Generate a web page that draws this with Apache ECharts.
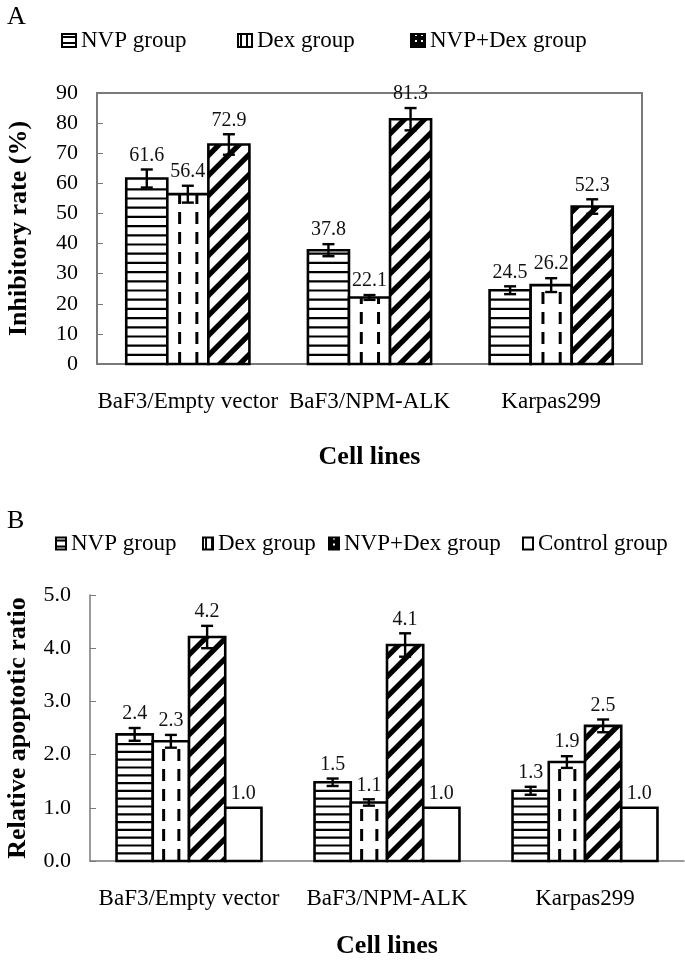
<!DOCTYPE html>
<html><head><meta charset="utf-8">
<script src="https://cdn.jsdelivr.net/npm/echarts@6/dist/echarts.min.js"></script>
<style>html,body{margin:0;padding:0;background:#fff}#c{width:685px;height:962px}</style>
</head><body><div id="c"></div>
<script>
// ---------- data ----------
const categories = ['BaF3/Empty vector', 'BaF3/NPM-ALK', 'Karpas299'];
const namesA = ['NVP group', 'Dex group', 'NVP+Dex group'];
const namesB = ['NVP group', 'Dex group', 'NVP+Dex group', 'Control group'];

// Panel A: inhibitory rate (%)
const nvpA = [61.6, 37.8, 24.5];
const dexA = [56.4, 22.1, 26.2];
const comboA = [72.9, 81.3, 52.3];
const nvpAErr = [3.0, 2.0, 1.3];
const dexAErr = [2.8, 0.8, 2.3];
const comboAErr = [3.4, 3.7, 2.4];
const nvpALabels = ['61.6', '37.8', '24.5'];
const dexALabels = ['56.4', '22.1', '26.2'];
const comboALabels = ['72.9', '81.3', '52.3'];
const ticksA = ['0', '10', '20', '30', '40', '50', '60', '70', '80', '90'];

// Panel B: relative apoptotic ratio
const nvpB = [2.38, 1.48, 1.32];
const dexB = [2.25, 1.10, 1.86];
const comboB = [4.21, 4.06, 2.54];
const ctrlB = [1.0, 1.0, 1.0];
const nvpBErr = [0.12, 0.07, 0.075];
const dexBErr = [0.12, 0.06, 0.11];
const comboBErr = [0.21, 0.22, 0.12];
const ctrlBErr = [0, 0, 0];
const nvpBLabels = ['2.4', '1.5', '1.3'];
const dexBLabels = ['2.3', '1.1', '1.9'];
const comboBLabels = ['4.2', '4.1', '2.5'];
const ctrlBLabels = ['1.0', '1.0', '1.0'];
const ticksB = ['0.0', '1.0', '2.0', '3.0', '4.0', '5.0'];

// ---------- helpers ----------
const FONT = '"Liberation Serif", "Times New Roman", serif';

function clipHalf(poly, c, keepGreater) {
  const out = [];
  for (let i = 0; i < poly.length; i++) {
    const P = poly[i], Q = poly[(i + 1) % poly.length];
    const fp = P[0] + P[1] - c, fq = Q[0] + Q[1] - c;
    const inP = keepGreater ? fp >= 0 : fp <= 0;
    const inQ = keepGreater ? fq >= 0 : fq <= 0;
    if (inP) out.push(P);
    if (inP !== inQ) {
      const t = fp / (fp - fq);
      out.push([P[0] + t * (Q[0] - P[0]), P[1] + t * (Q[1] - P[1])]);
    }
  }
  return out;
}

const labelsOf = {};
function makeRender(key, pos, count, kind, barFrac, hSpacing, labelSize) {
  return function (params, api) {
    const idx = api.value(0);
    const val = api.value(1);
    const err = api.value(2);
    const label = labelsOf[key][params.dataIndex];
    const base = api.coord([idx, 0]);
    const top = api.coord([idx, val]);
    const band = api.size([1, 0])[0];
    const bw = band * barFrac;
    const x0 = base[0] - bw * count / 2 + bw * pos;
    const x1 = x0 + bw;
    const yb = base[1], yt = top[1];
    const cx = (x0 + x1) / 2;
    const children = [];
    children.push({ type: 'rect', shape: { x: x0, y: yt, width: bw, height: yb - yt }, style: { fill: '#fff' } });
    if (kind === 'h') {
      for (let y = yb - hSpacing; y > yt + 2; y -= hSpacing) {
        children.push({ type: 'rect', shape: { x: x0, y: y - 1, width: bw, height: 2.2 }, style: { fill: '#000' } });
      }
    } else if (kind === 'v') {
      [0.3, 0.72].forEach(function (f) {
        const lx = x0 + bw * f;
        for (let y = yb; y > yt; y -= 20) {
          const ya = Math.max(yt, y - 12);
          children.push({ type: 'rect', shape: { x: lx - 1.5, y: ya, width: 3, height: y - ya }, style: { fill: '#000' } });
        }
      });
    } else if (kind === 'd') {
      const rect = [[x0, yt], [x1, yt], [x1, yb], [x0, yb]];
      const period = 20, th = 7.5;
      const kStart = Math.floor((x0 + yt) / period) - 1;
      const kEnd = Math.ceil((x1 + yb) / period) + 1;
      for (let k = kStart; k <= kEnd; k++) {
        let p = clipHalf(rect, k * period, true);
        if (p.length < 3) continue;
        p = clipHalf(p, k * period + th, false);
        if (p.length < 3) continue;
        children.push({ type: 'polygon', shape: { points: p }, style: { fill: '#000' } });
      }
    }
    children.push({ type: 'rect', shape: { x: x0, y: yt, width: bw, height: yb - yt }, style: { fill: null, stroke: '#000', lineWidth: 2.6 } });
    let labelY = yt;
    if (err > 0) {
      const eTop = api.coord([idx, val + err])[1];
      const eBot = api.coord([idx, val - err])[1];
      const capW = 6;
      children.push({ type: 'line', shape: { x1: cx, y1: eTop, x2: cx, y2: eBot }, style: { stroke: '#000', lineWidth: 2.4 } });
      children.push({ type: 'line', shape: { x1: cx - capW, y1: eTop, x2: cx + capW, y2: eTop }, style: { stroke: '#000', lineWidth: 2.4 } });
      children.push({ type: 'line', shape: { x1: cx - capW, y1: eBot, x2: cx + capW, y2: eBot }, style: { stroke: '#000', lineWidth: 2.4 } });
      labelY = eTop;
    }
    children.push({
      type: 'text',
      style: { text: label, x: cx, y: labelY - 4, textAlign: 'center', textVerticalAlign: 'bottom', fill: '#111', font: labelSize + 'px ' + FONT }
    });
    return { type: 'group', children: children };
  };
}

function buildSeries(name, key, values, errs, labels, pos, count, kind, barFrac, hSpacing, axisIndex) {
  labelsOf[key] = labels;
  return {
    type: 'custom',
    name: name,
    xAxisIndex: axisIndex,
    yAxisIndex: axisIndex,
    renderItem: makeRender(key, pos, count, kind, barFrac, hSpacing, 20),
    encode: { x: 0, y: 1 },
    data: values.map(function (v, i) { return [i, v, errs[i]]; }),
    clip: false,
    z: 3
  };
}

function tile(draw) {
  const c = document.createElement('canvas');
  c.width = 6; c.height = 6;
  const g = c.getContext('2d');
  g.fillStyle = '#fff'; g.fillRect(0, 0, 6, 6);
  g.fillStyle = '#000';
  draw(g);
  return { image: c, repeat: 'repeat' };
}
const iconH = tile(function (g) { g.fillRect(0, 2, 6, 2); });
const iconV = tile(function (g) { g.fillRect(2, 0, 2, 6); });
const iconD = tile(function (g) { g.fillRect(0, 0, 6, 6); g.fillStyle = '#fff'; g.fillRect(4, 0, 2, 2); });
const iconFills = { 'NVP group': iconH, 'Dex group': iconV, 'NVP+Dex group': iconD, 'Control group': '#fff' };

function legendItem(name, left, top, w, h) {
  return {
    data: [{ name: name, icon: 'rect', itemStyle: { color: iconFills[name], borderColor: '#000', borderWidth: 2 } }],
    left: left, top: top, itemWidth: w, itemHeight: h, padding: 0,
    textStyle: { fontFamily: FONT, fontSize: 23, color: '#000' }, selectedMode: false
  };
}

const barFracA = 0.226, barFracB = 0.183;
const series = [
  buildSeries(namesA[0], 'a0', nvpA, nvpAErr, nvpALabels, 0, 3, 'h', barFracA, 9.2, 0),
  buildSeries(namesA[1], 'a1', dexA, dexAErr, dexALabels, 1, 3, 'v', barFracA, 0, 0),
  buildSeries(namesA[2], 'a2', comboA, comboAErr, comboALabels, 2, 3, 'd', barFracA, 0, 0),
  buildSeries(namesB[0], 'b0', nvpB, nvpBErr, nvpBLabels, 0, 4, 'h', barFracB, 7.8, 1),
  buildSeries(namesB[1], 'b1', dexB, dexBErr, dexBLabels, 1, 4, 'v', barFracB, 0, 1),
  buildSeries(namesB[2], 'b2', comboB, comboBErr, comboBLabels, 2, 4, 'd', barFracB, 0, 1),
  buildSeries(namesB[3], 'b3', ctrlB, ctrlBErr, ctrlBLabels, 3, 4, 'n', barFracB, 0, 1)
];

const legendLeftA = [61, 237, 410];
const legendLeftB = [55, 202, 328, 522];

const axisGray = '#7a7a7a';
const catLabel = { interval: 0, hideOverlap: false, margin: 26, fontFamily: FONT, fontSize: 23, color: '#000' };
const titleFont = { fontFamily: FONT, fontSize: 26, fontWeight: 'bold', color: '#000' };
const chart = echarts.init(document.getElementById('c'), null, { renderer: 'canvas' });
chart.setOption({
  animation: false,
  backgroundColor: '#fff',
  title: [
    { text: 'A', left: 7, top: 4, padding: 0, textStyle: { fontFamily: FONT, fontSize: 26, fontWeight: 'normal', color: '#000' } },
    { text: 'B', left: 7, top: 508, padding: 0, textStyle: { fontFamily: FONT, fontSize: 26, fontWeight: 'normal', color: '#000' } }
  ],
  legend: namesA.map(function (n, i) { return legendItem(n, legendLeftA[i], 29, 14, 13); })
    .concat(namesB.map(function (n, i) { return legendItem(n, legendLeftB[i], 532, 10, 12); })),
  grid: [
    { left: 97, top: 93, width: 545, height: 271, show: true, borderColor: axisGray, borderWidth: 2, backgroundColor: 'transparent', containLabel: false, outerBoundsMode: 'none' },
    { left: 90, top: 595, width: 594, height: 266, containLabel: false, outerBoundsMode: 'none' }
  ],
  xAxis: [
    {
      type: 'category', gridIndex: 0, data: categories,
      axisLine: { lineStyle: { color: axisGray, width: 2 } },
      axisTick: { inside: true, length: 6, lineStyle: { color: axisGray } },
      axisLabel: catLabel,
      name: 'Cell lines', nameLocation: 'middle', nameGap: 80,
      nameTextStyle: titleFont
    },
    {
      type: 'category', gridIndex: 1, data: categories,
      axisLine: { lineStyle: { color: axisGray, width: 1.5 } },
      axisTick: { inside: true, length: 6, lineStyle: { color: axisGray } },
      axisLabel: catLabel,
      name: 'Cell lines', nameLocation: 'middle', nameGap: 72,
      nameTextStyle: titleFont
    }
  ],
  yAxis: [
    {
      type: 'value', gridIndex: 0, min: 0, max: 90, interval: 10,
      axisLine: { show: true, lineStyle: { color: axisGray, width: 2 } },
      axisTick: { show: true, inside: true, length: 6, lineStyle: { color: axisGray } },
      splitLine: { show: false },
      axisLabel: { margin: 19, fontFamily: FONT, fontSize: 22, color: '#000', formatter: function (v) { return ticksA[Math.round(v / 10)]; } },
      name: 'Inhibitory rate (%)', nameLocation: 'middle', nameGap: 65, nameRotate: 90,
      nameTextStyle: titleFont
    },
    {
      type: 'value', gridIndex: 1, min: 0, max: 5, interval: 1,
      axisLine: { show: true, lineStyle: { color: axisGray, width: 1.5 } },
      axisTick: { show: true, inside: true, length: 6, lineStyle: { color: axisGray } },
      splitLine: { show: false },
      axisLabel: { margin: 19, fontFamily: FONT, fontSize: 22, color: '#000', formatter: function (v) { return ticksB[Math.round(v)]; } },
      name: 'Relative apoptotic ratio', nameLocation: 'middle', nameGap: 59, nameRotate: 90,
      nameTextStyle: titleFont
    }
  ],
  series: series
});
</script></body></html>
